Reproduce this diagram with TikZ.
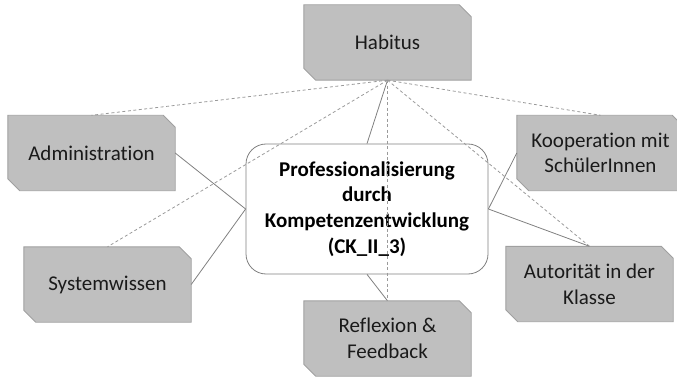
\documentclass[tikz,border=0pt]{standalone}
\usepackage{fontspec}
\setmainfont{Carlito}[Ligatures=NoCommon]
\usetikzlibrary{backgrounds}
\definecolor{boxfill}{HTML}{BFBFBF}
\definecolor{boxedge}{HTML}{A0A0A0}
\definecolor{solidline}{HTML}{808080}
\definecolor{dashline}{HTML}{9A9A9A}
\definecolor{txt}{HTML}{1A1A1A}
\newcommand\snipshape[1]{\draw[snipline] (#1.north west) -- ([xshift=-12pt]#1.north east) -- ([yshift=-12pt]#1.north east) -- (#1.south east) -- ([xshift=12pt]#1.south west) -- ([yshift=12pt]#1.south west) -- cycle;}
\tikzset{
  snipbox/.style={rectangle, minimum width=167pt, minimum height=75pt, inner sep=0pt, align=center, text=txt, font=\fontsize{21}{25.6}\selectfont},
  snipline/.style={fill=boxfill, draw=boxedge, line width=0.9pt},
  centerbox/.style={rectangle, rounded corners=20pt, minimum width=242pt, minimum height=130pt, inner sep=0pt, align=center, text=black, draw=solidline, line width=0.8pt, fill=white, font=\bfseries\fontsize{21}{25.6}\selectfont},
  solidconn/.style={draw=solidline, line width=0.8pt},
  dashconn/.style={draw=dashline, line width=0.8pt, dash pattern=on 3pt off 2.5pt}
}
\begin{document}
\begin{tikzpicture}[x=1pt, y=1pt]
\useasboundingbox (0,0) rectangle (677,378);
\clip (0,0) rectangle (677,378);
\node[snipbox] (hab) at (387.5,335.5) {Habitus};
\node[snipbox] (adm) at (91.5,225) {Administration};
\node[snipbox] (sys) at (107.5,93.5) {Systemwissen};
\node[snipbox] (koop) at (600.5,225) {Kooperation mit\\SchülerInnen};
\node[snipbox] (aut) at (589.5,94) {Autorität in der\\Klasse};
\node[snipbox] (ref) at (387.5,39.5) {Reflexion \&\\Feedback};
\begin{scope}[on background layer]
\foreach \n in {hab,adm,sys,koop,aut,ref} {\snipshape{\n}}
\end{scope}
\node[centerbox] (ctr) at (367,169) {Professionalisierung\\durch\\Kompetenzentwicklung\\(CK\_II\_3)};
\draw[solidconn] (ctr.north) -- (hab.south);
\draw[solidconn] (ctr.west) -- (adm.east);
\draw[solidconn] (ctr.west) -- (sys.east);
\draw[solidconn] (ctr.east) -- (koop.west);
\draw[solidconn] (ctr.east) -- (aut.north);
\draw[solidconn] (ctr.south) -- (ref.north);
\draw[dashconn] (hab.south) -- (adm.north);
\draw[dashconn] (hab.south) -- (sys.north);
\draw[dashconn] (hab.south) -- (koop.north);
\draw[dashconn] (hab.south) -- (aut.north);
\draw[dashconn] (hab.south) -- (ref.north);
\end{tikzpicture}
\end{document}
